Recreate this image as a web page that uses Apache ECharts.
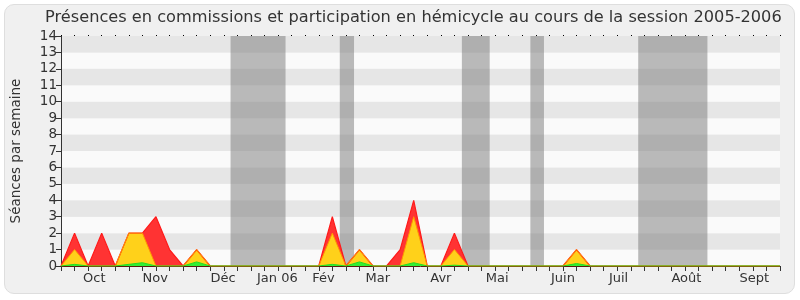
<!DOCTYPE html>
<html>
<head>
<meta charset="utf-8">
<script src="https://cdn.jsdelivr.net/npm/echarts@6/dist/echarts.min.js"></script>
<style>
html,body{margin:0;padding:0;background:#fff;}
#panel{position:absolute;left:4px;top:4px;width:789px;height:288px;background:#f0f0f0;border:1px solid #dedede;border-radius:10px;}
#chart{position:absolute;left:0;top:0;width:800px;height:300px;}
</style>
</head>
<body>
<div id="panel"></div>
<div id="chart"></div>
<script>
// Weekly values (week index 0..53), session 2005-2006
const weeks = Array.from({length: 54}, (_, i) => i);
const redValues    = [0,2,0,2,0,2,2,3,1,0, 1,0,0,0,0,0,0,0,0,0, 3,0,1,0,0,1,4,0,0,2, 0,0,0,0,0,0,0,0,1,0, 0,0,0,0,0,0,0,0,0,0, 0,0,0,0];
const yellowValues = [0,1,0,0,0,2,2,0,0,0, 1,0,0,0,0,0,0,0,0,0, 2,0,1,0,0,0,3,0,0,1, 0,0,0,0,0,0,0,0,1,0, 0,0,0,0,0,0,0,0,0,0, 0,0,0,0];
const greenValues  = [0,0.1,0,0,0,0.1,0.2,0,0,0, 0.25,0,0,0,0,0,0,0,0,0, 0.1,0,0.25,0,0,0,0.2,0,0,0.05, 0,0,0,0,0,0,0,0,0.15,0, 0,0,0,0,0,0,0,0,0,0, 0,0,0,0];
// Month labels and their positions (in week units)
const monthLabels    = ['Oct','Nov','Déc','Jan 06','Fév','Mar','Avr','Mai','Juin','Juil','Août','Sept'];
const monthPositions = [2.45, 6.95, 11.95, 15.95, 19.35, 23.35, 28.0, 32.15, 37.0, 41.1, 46.1, 51.1];
// Vacation periods (week units)
const vacStart = [12.5, 20.55, 29.55, 34.6, 42.55];
const vacEnd   = [16.55, 21.6, 31.6, 35.6, 47.65];
const yTicks = [0,1,2,3,4,5,6,7,8,9,10,11,12,13,14];

const chart = echarts.init(document.getElementById('chart'));
const font = 'DejaVu Sans';
const toPairs = arr => weeks.map(i => [i, arr[i]]);

chart.setOption({
  animation: false,
  backgroundColor: 'transparent',
  title: {
    text: 'Présences en commissions et participation en hémicycle au cours de la session 2005-2006',
    left: 40, top: 5,
    textStyle: {fontFamily: font, fontSize: 16.2, fontWeight: 'normal', color: '#333'}
  },
  grid: {left: 61, right: 20, top: 36, bottom: 34, containLabel: false},
  xAxis: [{
    type: 'value', min: 0, max: 53, interval: 1,
    axisLine: {show: true, lineStyle: {color: '#5a1e0a', width: 1}},
    axisTick: {show: true, length: 5, lineStyle: {color: '#333'}},
    splitLine: {show: false},
    axisLabel: {
      customValues: monthPositions,
      formatter: v => { const i = monthPositions.findIndex(p => Math.abs(p - v) < 1e-6); return i >= 0 ? monthLabels[i] : ''; },
      fontFamily: font, fontSize: 13, color: '#333', margin: 6
    }
  }, {
    type: 'value', min: 0, max: 53, interval: 1, position: 'top',
    axisLine: {show: false},
    axisTick: {show: true, length: 1, lineStyle: {color: '#000'}},
    axisLabel: {show: false},
    splitLine: {show: false}
  }],
  yAxis: {
    type: 'value', min: 0, max: 14, interval: 1,
    name: 'Séances par semaine', nameLocation: 'middle', nameGap: 38, nameRotate: 90,
    nameTextStyle: {fontFamily: font, fontSize: 13.5, color: '#333'},
    axisLine: {show: true, lineStyle: {color: '#333'}},
    axisTick: {show: true, length: 5, lineStyle: {color: '#333'}},
    axisLabel: {fontFamily: font, fontSize: 13.5, color: '#333', margin: 4,
      formatter: v => yTicks.includes(v) ? String(v) : ''},
    splitLine: {show: false},
    splitArea: {show: true, areaStyle: {color: ['#fafafa', '#e6e6e6']}}
  },
  series: [{
    name: 'red', type: 'line', data: toPairs(redValues), symbol: 'none',
    lineStyle: {color: '#ff1a1a', width: 1.2},
    areaStyle: {color: '#ff3333', opacity: 1},
    markArea: {
      silent: true,
      itemStyle: {color: 'rgba(120,120,120,0.5)'},
      data: vacStart.map((s, i) => [{xAxis: s}, {xAxis: vacEnd[i]}])
    }
  }, {
    name: 'yellow', type: 'line', data: toPairs(yellowValues), symbol: 'none',
    lineStyle: {color: '#ff9900', width: 1},
    areaStyle: {color: '#ffd11a', opacity: 1}
  }, {
    name: 'green', type: 'line', data: toPairs(greenValues), symbol: 'none',
    lineStyle: {color: '#22dd22', width: 1},
    areaStyle: {color: '#33ee33', opacity: 1}
  }]
});
</script>
</body>
</html>
